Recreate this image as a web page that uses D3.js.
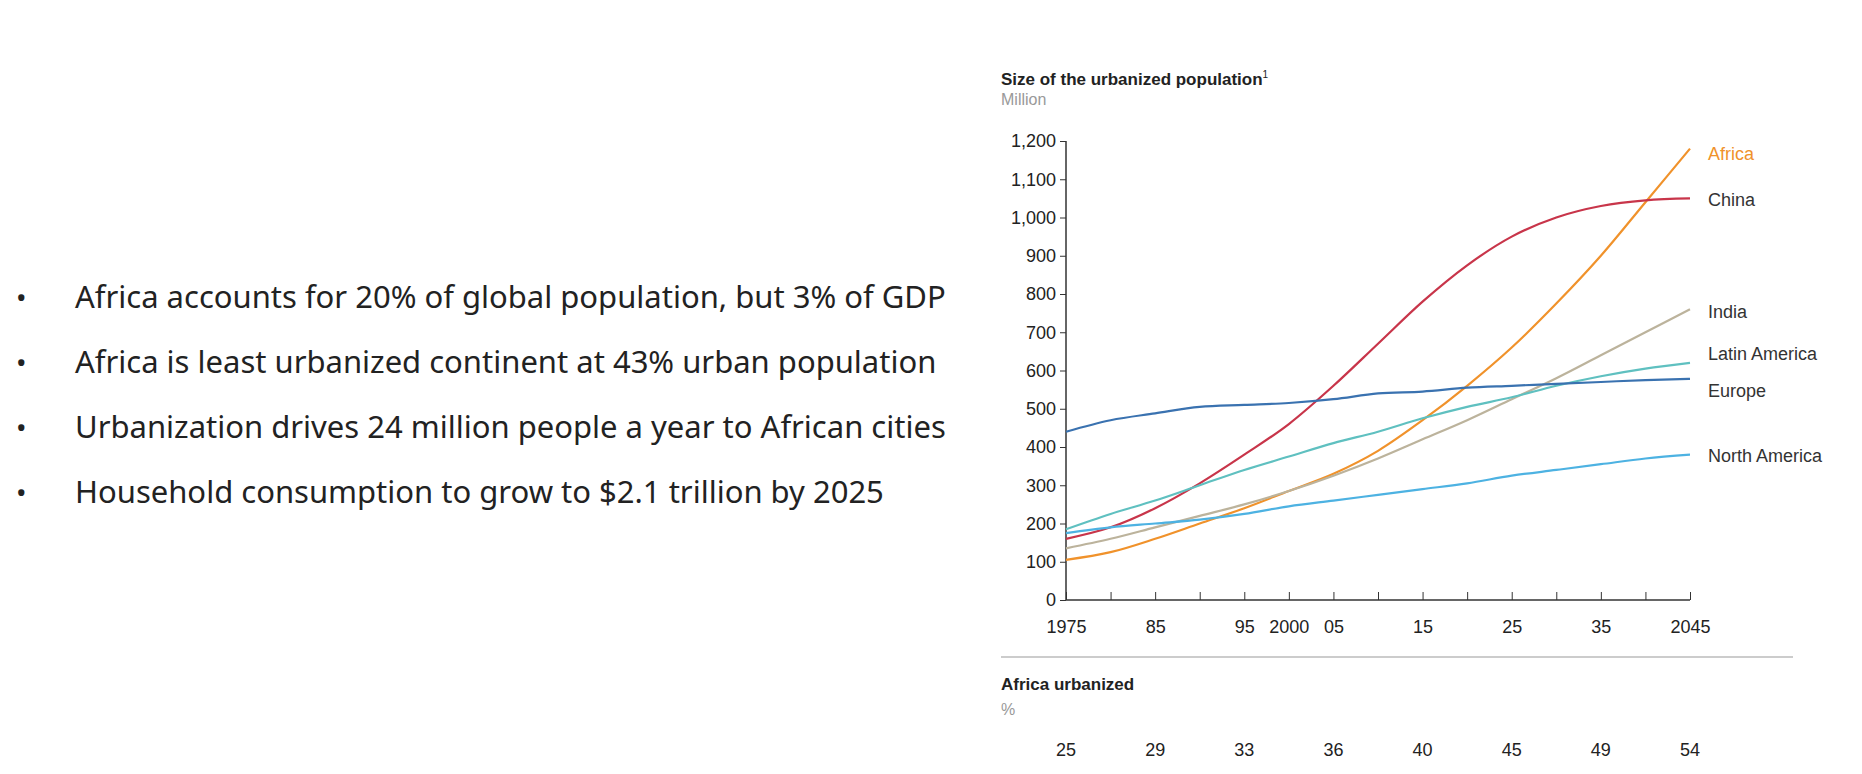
<!DOCTYPE html>
<html lang="en">
<head>
  <meta charset="UTF-8">
  <title>Africa urbanization</title>
  <script src="https://d3js.org/d3.v7.min.js"></script>
  <style>
    body { margin: 0; background: white; }
    svg text { font-family: "Liberation Sans", Arial, sans-serif; }
  </style>
</head>
<body>
<svg id="chart" width="1862" height="774"></svg>
<script type="text/javascript">
  // data
  var years = [1975, 1980, 1985, 1990, 1995, 2000, 2005, 2010, 2015, 2020, 2025, 2030, 2035, 2040, 2045]
  var africa = [105, 125, 160, 200, 240, 285, 330, 390, 470, 560, 660, 775, 900, 1040, 1180]
  var china = [160, 190, 240, 305, 380, 460, 560, 670, 780, 875, 950, 1000, 1030, 1045, 1050]
  var india = [135, 160, 190, 220, 250, 285, 325, 370, 420, 470, 525, 580, 640, 700, 760]
  var latinAmerica = [185, 225, 260, 300, 340, 375, 410, 440, 475, 505, 530, 560, 585, 605, 620]
  var europe = [440, 470, 488, 505, 510, 515, 525, 540, 545, 555, 560, 565, 570, 575, 578]
  var northAmerica = [175, 190, 200, 210, 225, 245, 260, 275, 290, 305, 325, 340, 355, 370, 380]
  var xTickLabels = { 1975: "1975", 1985: "85", 1995: "95", 2000: "2000", 2005: "05", 2015: "15", 2025: "25", 2035: "35", 2045: "2045" }
  var urbanYears = [1975, 1985, 1995, 2005, 2015, 2025, 2035, 2045]
  var urbanPct = [25, 29, 33, 36, 40, 45, 49, 54]
  var bullets = [
    "Africa accounts for 20% of global population, but 3% of GDP",
    "Africa is least urbanized continent at 43% urban population",
    "Urbanization drives 24 million people a year to African cities",
    "Household consumption to grow to $2.1 trillion by 2025"
  ]

  var series = [
    { name: "Africa", values: africa, color: "#f0922b", labelColor: "#f0922b", ly: 154 },
    { name: "China", values: china, color: "#c8354a", labelColor: "#333", ly: 200 },
    { name: "India", values: india, color: "#bcb39c", labelColor: "#333", ly: 312 },
    { name: "Latin America", values: latinAmerica, color: "#5fc0c0", labelColor: "#333", ly: 354 },
    { name: "Europe", values: europe, color: "#3a72b0", labelColor: "#333", ly: 391 },
    { name: "North America", values: northAmerica, color: "#4db2e2", labelColor: "#333", ly: 456 }
  ]

  var svg = d3.select("#chart")

  // bullet list on the left
  var bl = svg.append("g")
  bullets.forEach(function(t, i) {
    var y = 308 + i * 65
    bl.append("text").attr("x", 16).attr("y", y).style("font-family", "Noto Sans")
      .style("font-size", "28px").attr("fill", "#222").text("•")
    bl.append("text").attr("x", 75).attr("y", y).style("font-family", "Noto Sans")
      .style("font-size", "31px").attr("fill", "#222").text(t)
  })

  var x = d3.scaleLinear().domain([1975, 2045]).range([1066, 1690])
  var y = d3.scaleLinear().domain([0, 1200]).range([600, 141])

  svg.append("text").attr("x", 1001).attr("y", 85).style("font-size", "17px")
    .style("font-weight", "bold").attr("fill", "#222")
    .text("Size of the urbanized population")
    .append("tspan").attr("dy", -7).style("font-size", "10px").style("font-weight", "normal").text("1")
  svg.append("text").attr("x", 1001).attr("y", 105).style("font-size", "16px")
    .attr("fill", "#999").text("Million")

  var yAxis = svg.append("g").attr("transform", "translate(1066,0)")
    .call(d3.axisLeft(y).tickValues(d3.range(0, 1201, 100)).tickSize(6).tickPadding(4)
      .tickFormat(d3.format(",")))
  var xAxis = svg.append("g").attr("transform", "translate(0,600)")
    .call(d3.axisBottom(x).tickValues(d3.range(1975, 2046, 5)).tickSize(-8).tickPadding(20)
      .tickFormat(function(d) { return xTickLabels[d] || "" }))
  ;[yAxis, xAxis].forEach(function(a) {
    a.select(".domain").attr("stroke", "#333").attr("stroke-width", 1.5)
    a.selectAll(".tick line").attr("stroke", "#333")
    a.selectAll("text").style("font-size", "18px").attr("fill", "#222")
  })
  yAxis.select(".domain").attr("d", "M0,141V600")
  xAxis.select(".domain").attr("d", "M1066,0H1690")

  var line = d3.line()
    .x(function(d, i) { return x(years[i]) })
    .y(function(d) { return y(d) })
    .curve(d3.curveMonotoneX)

  series.forEach(function(s) {
    svg.append("path").attr("d", line(s.values)).attr("fill", "none")
      .attr("stroke", s.color).attr("stroke-width", 2.2)
    svg.append("text").attr("x", 1708).attr("y", s.ly).attr("dy", "0.35em")
      .style("font-size", "18px").attr("fill", s.labelColor).text(s.name)
  })

  svg.append("line").attr("x1", 1001).attr("x2", 1793).attr("y1", 657).attr("y2", 657)
    .attr("stroke", "#ccc").attr("stroke-width", 2)
  svg.append("text").attr("x", 1001).attr("y", 690).style("font-size", "17px")
    .style("font-weight", "bold").attr("fill", "#222").text("Africa urbanized")
  svg.append("text").attr("x", 1001).attr("y", 715).style("font-size", "16px")
    .attr("fill", "#999").text("%")
  svg.selectAll(".pct").data(urbanPct).enter().append("text")
    .attr("x", function(d, i) { return x(urbanYears[i]) }).attr("y", 756)
    .attr("text-anchor", "middle").style("font-size", "18px").attr("fill", "#222")
    .text(function(d) { return d })
</script>
</body>
</html>
